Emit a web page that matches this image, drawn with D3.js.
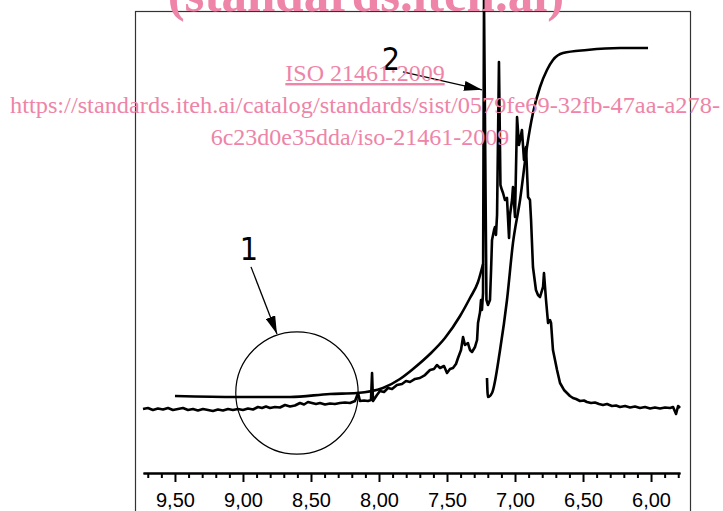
<!DOCTYPE html>
<html>
  <head>
    <meta charset="utf-8">
    <script src="https://cdnjs.cloudflare.com/ajax/libs/d3/7.8.5/d3.min.js"></script>
    <style>
      body { margin: 0; background: #fff; }
      .axis path, .axis line { stroke: #000; stroke-width: 2px; }
      .axis text { fill: #000; font-family: "Liberation Sans", Arial, sans-serif; font-size: 20px; }
      .trace { fill: none; stroke: #000; stroke-width: 2.6px; stroke-linejoin: round; }
      .mark { font-family: "Liberation Sans Narrow", "DejaVu Sans Condensed", sans-serif; font-size: 32px; fill: #000; }
      .wm { fill: #ee84a7; font-family: "Liberation Serif", "Times New Roman", serif; }
    </style>
  </head>
  <body>
    <script>
      // chemical shift (ppm) and intensity (% of frame height)
      var specPpm = [9.735, 9.699, 9.662, 9.625, 9.588, 9.551, 9.515, 9.478, 9.441, 9.404, 9.368, 9.331, 9.294, 9.257, 9.221, 9.184, 9.147, 9.110, 9.074, 9.037,
        9.000, 8.963, 8.926, 8.890, 8.860, 8.831, 8.801, 8.765, 8.728, 8.691, 8.654, 8.618, 8.581, 8.551, 8.522, 8.493, 8.463, 8.434, 8.397, 8.360,
        8.324, 8.287, 8.250, 8.213, 8.176, 8.154, 8.140, 8.110, 8.081, 8.059, 8.051, 8.044, 8.015, 7.993, 7.963, 7.934, 7.904, 7.868, 7.831, 7.801,
        7.772, 7.735, 7.699, 7.662, 7.625, 7.596, 7.574, 7.551, 7.522, 7.500, 7.478, 7.456, 7.434, 7.419, 7.397, 7.382, 7.368, 7.346, 7.331, 7.316,
        7.294, 7.279, 7.272, 7.257, 7.250, 7.243, 7.235, 7.228, 7.210, 7.199, 7.184, 7.176, 7.169, 7.154, 7.147, 7.140, 7.132, 7.118, 7.107, 7.096,
        7.088, 7.074, 7.059, 7.044, 7.037, 7.022, 7.015, 7.000, 6.985, 6.971, 6.963, 6.949, 6.934, 6.919, 6.904, 6.890, 6.882, 6.868, 6.846, 6.831,
        6.816, 6.801, 6.794, 6.787, 6.772, 6.757, 6.743, 6.735, 6.721, 6.691, 6.669, 6.640, 6.618, 6.596, 6.574, 6.551, 6.522, 6.493, 6.471, 6.441,
        6.412, 6.382, 6.353, 6.324, 6.287, 6.257, 6.228, 6.191, 6.154, 6.118, 6.081, 6.044, 6.007, 5.971, 5.934, 5.897, 5.860, 5.838, 5.816, 5.801, 5.787];
      var specInt = [0, 0.25, -0.25, 0.13, -0.13, 0.25, -0.25, 0, 0.25, -0.25, 0, -0.38, 0, -0.25, -0.5, -0.13, -0.38, 0, -0.25, 0,
        -0.25, 0.13, -0.13, 0.5, 0.25, 0.63, 0.25, 0.5, 0.38, 1.0, 0.63, 0.88, 1.51, 1.13, 1.76, 1.51, 1.26, 1.51, 1.13, 1.39,
        1.26, 1.51, 1.64, 1.51, 2.02, 4.03, 2.02, 2.14, 2.02, 2.27, 9.07, 2.02, 3.53, 4.53, 4.28, 5.29, 5.04, 6.05, 6.30, 7.05,
        6.80, 7.56, 7.81, 8.56, 9.82, 10.08, 11.08, 10.33, 10.83, 9.07, 10.08, 10.33, 11.34, 12.85, 14.86, 18.14, 16.12, 16.62, 14.86, 14.36,
        15.62, 17.38, 21.66, 24.43, 27.46, 24.94, 29.22, 103, 27.46, 26.20, 27.46, 35.01, 42.57, 45.09, 45.84, 43.83, 48.87, 87.41, 56.42, 55.16,
        54.41, 52.64, 53.15, 43.07, 48.87, 52.64, 55.92, 48.36, 73.55, 66.50, 67.76, 70.28, 62.72, 66.00, 53.40, 52.64, 47.61, 35.77, 29.97, 28.72,
        28.21, 29.97, 30.73, 34.26, 27.46, 21.66, 22.42, 21.66, 14.86, 9.82, 6.55, 4.79, 4.03, 3.27, 2.77, 2.52, 2.02, 2.14, 1.76, 1.51,
        1.64, 1.26, 1.01, 1.26, 0.76, 0.88, 0.50, 0.76, 0.38, 0.63, 0.25, 0.50, 0.13, 0.38, 0.13, 0.38, 0.25, 0.50, -1.26, 0.76, 0.25];

      // integral curve, first and second part
      var int1Ppm = [9.500, 9.044, 8.654, 8.360, 8.162, 7.971, 7.846, 7.750, 7.625, 7.515, 7.404, 7.331, 7.272, 7.235];
      var int1Val = [3.27, 3.02, 3.02, 3.78, 4.03, 5.29, 7.56, 10.08, 13.85, 17.88, 23.43, 27.96, 31.99, 36.52];
      var int2Ppm = [7.206, 7.199, 7.169, 7.110, 7.059, 7.015, 6.963, 6.912, 6.868, 6.816, 6.765, 6.721, 6.647, 6.471, 6.228, 6.022];
      var int2Val = [7.81, 3.02, 4.03, 14.86, 27.46, 41.81, 52.64, 66.00, 74.56, 81.11, 85.39, 87.91, 89.67, 90.43, 90.93, 90.93];

      // axis ticks
      var majorTicks = [9.5, 9.0, 8.5, 8.0, 7.5, 7.0, 6.5, 6.0];
      var minorTicks = [9.7, 9.6, 9.4, 9.3, 9.2, 9.1, 8.9, 8.8, 8.7, 8.6, 8.4, 8.3, 8.2, 8.1, 7.9, 7.8, 7.7, 7.6,
        7.4, 7.3, 7.2, 7.1, 6.9, 6.8, 6.7, 6.6, 6.4, 6.3, 6.2, 6.1, 5.9, 5.8];

      // annotations: labels and arrows (ppm, intensity)
      var labelText = ["1", "2"];
      var labelAt = [[8.956, 37.5], [7.912, 85.4]];
      var arrowFrom = [[8.941, 35.8], [7.824, 84.9]];
      var arrowTo = [[8.750, 18.9], [7.243, 80.4]];
      var circleAt = [8.603, 4.03];
      var circleR = 0.45;

      var w = 723, h = 511;
      var svg = d3.select("body").append("svg").attr("width", w).attr("height", h);

      var x = d3.scaleLinear().domain([9.735, 5.787]).range([143, 680]);
      var y = d3.scaleLinear().domain([0, 100]).range([409, 12]);

      // frame
      svg.append("rect").attr("x", 135.5).attr("y", 11.5).attr("width", 555).attr("height", 530)
        .attr("fill", "none").attr("stroke", "#333").attr("stroke-width", 1.2);

      var fmt = d3.formatLocale({decimal: ",", thousands: ".", grouping: [3], currency: ["", ""]}).format(".2f");

      svg.append("g").attr("class", "axis")
        .attr("transform", "translate(0,473)")
        .call(d3.axisBottom(x).tickValues(minorTicks).tickSize(5).tickSizeOuter(0).tickFormat(""));
      svg.append("g").attr("class", "axis")
        .attr("transform", "translate(0,473)")
        .call(d3.axisBottom(x).tickValues(majorTicks).tickSize(9).tickSizeOuter(0).tickPadding(11).tickFormat(fmt));

      var line = d3.line().x(function(d) { return x(d[0]); }).y(function(d) { return y(d[1]); });
      var smooth = d3.line().curve(d3.curveMonotoneX).x(function(d) { return x(d[0]); }).y(function(d) { return y(d[1]); });

      svg.append("path").attr("class", "trace").attr("d", line(d3.zip(specPpm, specInt)));
      svg.append("path").attr("class", "trace").attr("d", smooth(d3.zip(int1Ppm, int1Val)));
      svg.append("path").attr("class", "trace").attr("d", smooth(d3.zip(int2Ppm, int2Val)));

      // circle marking region 1
      svg.append("circle")
        .attr("cx", x(circleAt[0])).attr("cy", y(circleAt[1]))
        .attr("r", x(circleAt[0] - circleR) - x(circleAt[0]))
        .attr("fill", "none").attr("stroke", "#000").attr("stroke-width", 1.2);

      svg.append("defs").append("marker")
        .attr("id", "head").attr("viewBox", "0 0 18 10").attr("refX", 18).attr("refY", 5)
        .attr("markerWidth", 18).attr("markerHeight", 10).attr("markerUnits", "userSpaceOnUse")
        .attr("orient", "auto")
        .append("path").attr("d", "M0,0L18,5L0,10Z").attr("fill", "#000");

      labelText.forEach(function(t, i) {
        svg.append("line")
          .attr("x1", x(arrowFrom[i][0])).attr("y1", y(arrowFrom[i][1]))
          .attr("x2", x(arrowTo[i][0])).attr("y2", y(arrowTo[i][1]))
          .attr("stroke", "#000").attr("stroke-width", 1.3)
          .attr("marker-end", "url(#head)");
        svg.append("text").attr("class", "mark")
          .attr("x", x(labelAt[i][0])).attr("y", y(labelAt[i][1]))
          .attr("text-anchor", "middle").text(t);
      });

      // watermark lines
      svg.append("text").attr("class", "wm").attr("x", 366).attr("y", 11)
        .attr("text-anchor", "middle").style("font-size", "51px").style("font-weight", "bold")
        .text("(standards.iteh.ai)");
      svg.append("text").attr("class", "wm").attr("x", 365).attr("y", 81)
        .attr("text-anchor", "middle").style("font-size", "24px").style("text-decoration", "underline")
        .text("ISO 21461:2009");
      svg.append("text").attr("class", "wm").attr("x", 10).attr("y", 113)
        .attr("textLength", 710).attr("lengthAdjust", "spacingAndGlyphs").style("font-size", "24px")
        .text("https://standards.iteh.ai/catalog/standards/sist/0579fe69-32fb-47aa-a278-");
      svg.append("text").attr("class", "wm").attr("x", 360).attr("y", 145)
        .attr("text-anchor", "middle").style("font-size", "24px")
        .text("6c23d0e35dda/iso-21461-2009");
    </script>
  </body>
</html>
